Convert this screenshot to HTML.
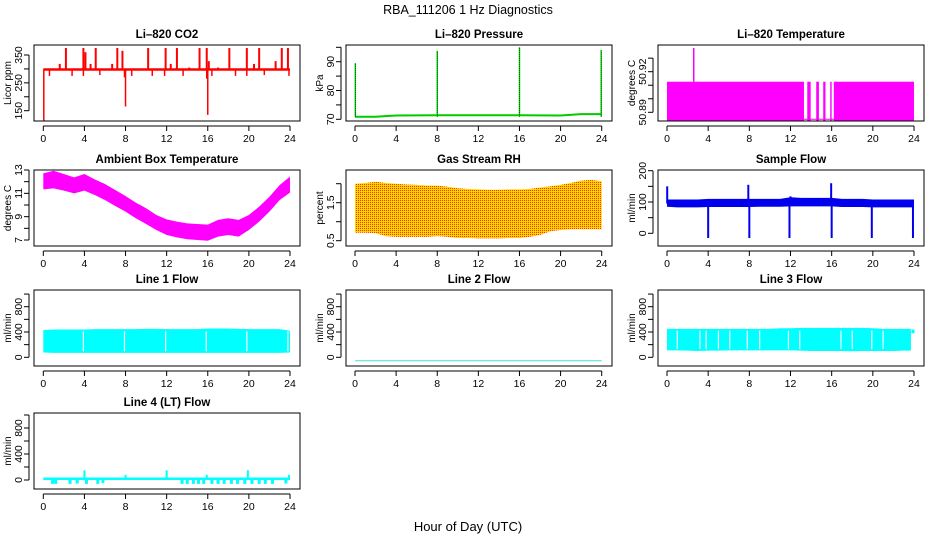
<!DOCTYPE html>
<html><head><meta charset="utf-8"><style>
html,body{margin:0;padding:0;background:#fff}
svg{display:block}
text{font-family:"Liberation Sans",sans-serif;fill:#000}
</style></head><body>
<svg id="chart" width="936" height="540" viewBox="0 0 936 540" xmlns="http://www.w3.org/2000/svg">
<defs>
<pattern id="rhpat" width="2" height="2" patternUnits="userSpaceOnUse">
<rect width="2" height="2" fill="#ffd400"/><rect width="1" height="1" fill="#ff3000"/>
</pattern>
</defs>
<text x="468" y="14" font-size="12.5" text-anchor="middle">RBA_111206  1 Hz Diagnostics</text>
<text x="468" y="531" font-size="13" text-anchor="middle">Hour of Day (UTC)</text>
</svg>
<script>
// ---------- data ----------
const xTicks=[0,4,8,12,16,20,24];
const hours=[0,1,2,3,4,5,6,7,8,9,10,11,12,13,14,15,16,17,18,19,20,21,22,23,24];
// CO2
const co2Base=298;
const co2UpHours=[1.6,2.2,3.9,4.1,4.6,5.1,6.7,7.2,7.7,10.2,11.9,12.4,13.0,14.2,15.2,15.9,16.1,17.0,18.1,19.8,20.5,21.0,22.6,23.2,23.8];
const co2UpVals=[318,375,375,360,318,375,318,375,365,375,375,318,375,305,375,375,328,305,375,375,318,375,328,375,375];
const co2DownHours=[0.05,0.6,2.8,3.9,5.5,7.9,8.0,8.6,10.6,11.8,13.6,15.9,16.0,16.4,18.7,19.8,21.5,23.9];
const co2DownVals=[115,275,275,275,278,270,165,275,275,275,275,265,135,275,275,275,278,275];
// Pressure
const presBaseHours=[0,2,4,8,12,16,20,22,23.9];
const presBaseVals=[70.9,70.9,71.3,71.4,71.4,71.4,71.3,71.8,71.8];
const presSpikeHours=[0.03,8.0,16.0,23.95];
const presSpikeVals=[89.5,93.8,95,94];
// Li-820 temperature
const tempLevel=50.9126;
const tempLow=50.8849;
const tempSpikeHour=[2.6];
const tempSpikeVal=[50.9375];
const tempOnStart=[0,13.63,14.5,15.18,15.86,16.21];
const tempOnEnd=[13.31,13.96,14.76,15.4,16.0,24];
// Ambient box temperature
const ambHigh=[12.71,12.94,12.66,12.37,12.66,12.2,11.8,11.29,10.77,10.2,9.72,9.14,8.77,8.57,8.43,8.37,8.32,8.72,8.86,8.72,9.14,9.86,10.71,11.71,12.43];
const ambLow=[11.34,11.43,11.23,11.0,11.23,10.86,10.43,9.91,9.43,8.86,8.37,7.86,7.43,7.23,7.06,7.0,6.94,7.29,7.43,7.29,7.86,8.57,9.43,10.43,11.06];
// Gas stream RH
const rhHigh=[2.0,2.02,2.05,2.02,2.0,1.98,1.97,1.95,1.95,1.92,1.88,1.86,1.85,1.84,1.84,1.85,1.85,1.86,1.9,1.93,1.97,2.02,2.08,2.1,2.06];
const rhLow=[0.71,0.71,0.7,0.62,0.6,0.6,0.6,0.6,0.62,0.6,0.57,0.57,0.56,0.56,0.56,0.57,0.57,0.6,0.65,0.75,0.78,0.8,0.8,0.8,0.8];
// Sample flow
const sfHigh=[108,108,108,108,110,110,110,110,110,110,110,110,115,113,113,113,113,110,110,110,108,108,108,108,108];
const sfLow=[85,83,83,83,84,84,84,84,84,85,85,85,86,86,86,86,86,84,84,84,83,83,83,83,83];
const sfSpikeHours=[0.02,4.0,7.9,8.0,11.9,12.0,15.95,16.0,19.9,23.9];
const sfSpikeVals=[150,-15,155,-15,-15,118,160,-15,-15,-15];
// Line 1
const l1High=[430,440,440,440,440,445,445,445,445,445,450,450,445,445,445,445,455,455,455,450,445,445,445,445,420];
const l1Low=[75,70,70,70,70,70,70,70,70,70,70,70,70,70,70,70,70,70,70,70,70,70,70,70,75];
const l1Gaps=[3.9,7.9,11.9,15.85,19.8,23.8];
// Line 2
const l2Val=-55;
// Line 3
const l3High=[450,450,450,450,450,450,450,450,450,450,450,460,460,465,465,465,465,465,465,465,460,450,450,450,440];
const l3Low=[110,110,105,100,105,105,110,110,110,110,110,110,110,105,100,100,100,100,95,100,100,100,100,105,380];
const l3Gaps=[1.0,3.2,3.8,5.0,6.1,7.8,9.0,11.8,12.9,16.9,18.0,19.9,21.0];
// Line 4
const l4Base=20;
const l4SpikeHours=[4.0,8.0,12.0,15.9,19.9,23.9];
const l4SpikeVals=[150,80,150,80,150,80];
const l4DipHours=[0.9,1.2,2.6,3.3,4.2,5.3,5.8,13.5,14.0,14.6,15.1,15.6,16.4,17.0,17.6,18.3,18.9,19.6,20.3,21.0,21.6,22.3,23.6];
const l4DipVals=[-60,-60,-60,-55,-60,-60,-45,-60,-60,-60,-60,-60,-60,-60,-60,-60,-60,-60,-60,-60,-60,-60,-55];

// ---------- layout ----------
const NS='http://www.w3.org/2000/svg';
const svg=document.getElementById('chart');
const cols=[{l:34,r:300,h0:43.3,h24:290},{l:346,r:612,h0:355,h24:601.7},{l:658,r:924,h0:667,h24:914}];
const rows=[{t:45,b:121},{t:170,b:246},{t:290,b:366},{t:413,b:489}];
function mk(tag,attrs,parent){const e=document.createElementNS(NS,tag);for(const k in attrs)e.setAttribute(k,attrs[k]);(parent||svg).appendChild(e);return e;}

function panel(name,title,ylab,c,r,ya,yapx,yb,ybpx,yticks,ylabels){
  const C=cols[c],R=rows[r];
  const g=mk('g',{});
  
  
  const sx=h=>C.h0+(C.h24-C.h0)*h/24;
  const sy=v=>yapx+(ybpx-yapx)*(v-ya)/(yb-ya);
  const cp=mk('clipPath',{id:'clip-'+name},g);
  mk('rect',{x:C.l,y:R.t,width:C.r-C.l,height:R.b-R.t},cp);
  const plot=mk('g',{'clip-path':'url(#clip-'+name+')'},g);
  
  
  const box=mk('rect',{x:C.l,y:R.t,width:C.r-C.l,height:R.b-R.t,fill:'none',stroke:'#000','stroke-width':1},g);
  
  
  const t=mk('text',{x:(C.l+C.r)/2,y:R.t-7,'font-size':11.5,'font-weight':'bold','text-anchor':'middle'},g);
  t.textContent=title;
  
  
  // x axis
  const xa=mk('g',{},g);
  
  
  const xy=R.b+5;
  mk('line',{x1:sx(0),x2:sx(24),y1:xy,y2:xy,stroke:'#000'},xa);
  xTicks.forEach(h=>{
    mk('line',{x1:sx(h),x2:sx(h),y1:xy,y2:xy+5,stroke:'#000'},xa);
    const tl=mk('text',{x:sx(h),y:R.b+21,'font-size':10.5,'text-anchor':'middle'},xa);tl.textContent=h;
  });
  // y axis
  const yaG=mk('g',{},g);
  
  
  const ax=C.l-5;
  mk('line',{x1:ax,x2:ax,y1:sy(yticks[0]),y2:sy(yticks[yticks.length-1]),stroke:'#000'},yaG);
  yticks.forEach(v=>{mk('line',{x1:ax-5,x2:ax,y1:sy(v),y2:sy(v),stroke:'#000'},yaG);});
  ylabels.forEach(v=>{
    const tl=mk('text',{x:0,y:0,'font-size':10.5,'text-anchor':'middle',transform:'translate('+(ax-7)+','+sy(v)+') rotate(-90)'},yaG);
    tl.textContent=v;
  });
  const yl=mk('text',{x:0,y:0,'font-size':10,'text-anchor':'middle',transform:'translate('+(C.l-23)+','+((R.t+R.b)/2)+') rotate(-90)'},g);
  yl.textContent=ylab;
  
  
  return {sx,sy,plot};
}
function band(p,xs,lo,hi,fill,name){
  let d='M'+xs.map((h,i)=>p.sx(h)+','+p.sy(hi[i])).join('L');
  for(let i=xs.length-1;i>=0;i--)d+='L'+p.sx(xs[i])+','+p.sy(lo[i]);
  const e=mk('path',{d:d+'Z',fill:fill,stroke:'none'},p.plot);
  
  
  return e;
}
function vline(p,h,v0,v1,col,w,name){
  const e=mk('line',{x1:p.sx(h),x2:p.sx(h),y1:p.sy(v0),y2:p.sy(v1),stroke:col,'stroke-width':w||1},p.plot);
  
  
  return e;
}
function hline(p,h0,h1,v,col,w,name){
  const e=mk('line',{x1:p.sx(h0),x2:p.sx(h1),y1:p.sy(v),y2:p.sy(v),stroke:col,'stroke-width':w||1},p.plot);
  
  
  return e;
}

// CO2
let p=panel('co2','Li–820 CO2','Licor ppm',0,0,150,110.7,350,55,[150,200,250,300,350],[150,250,350]);
hline(p,0,24,co2Base,'#ff0000',2.5,'co2-baseline');
co2UpHours.forEach((h,i)=>vline(p,h,co2Base,co2UpVals[i],'#ff0000',2,'co2-spike'));
co2DownHours.forEach((h,i)=>vline(p,h,co2Base,co2DownVals[i],'#ff0000',1.5,'co2-dip'));

// Pressure
p=panel('pressure','Li–820 Pressure','kPa',1,0,70,119.3,90,61.7,[70,75,80,85,90,95],[70,80,90]);
{let d='M'+presBaseHours.map((h,i)=>p.sx(h)+','+p.sy(presBaseVals[i])).join('L');
 const e=mk('path',{d:d,fill:'none',stroke:'#00cc00','stroke-width':2},p.plot);
 
 }
presSpikeHours.forEach((h,i)=>{vline(p,h,presBaseVals[0],presSpikeVals[i],'#00dd00',1.5,'pressure-spike');vline(p,h,presBaseVals[0],presSpikeVals[i],'#000',0.6,'pressure-spike-dots').setAttribute('stroke-dasharray','1,1');});

// Li-820 Temperature
p=panel('li820-temp','Li–820 Temperature','degrees C',2,0,50.89,112.3,50.92,71.7,[50.89,50.9,50.91,50.92,50.93],['50.89','50.92']);
hline(p,12,17.5,tempLow,'#ff00ff',1,'temp-low-line');
tempOnStart.forEach((s,i)=>{
  const e=mk('rect',{x:p.sx(s),y:p.sy(tempLevel),width:p.sx(tempOnEnd[i])-p.sx(s),height:p.sy(tempLow-0.001)-p.sy(tempLevel),fill:'#ff00ff'},p.plot);
  
  
});
tempSpikeHour.forEach((h,i)=>vline(p,h,tempLevel,tempSpikeVal[i],'#ff00ff',1.5,'temp-spike'));

// Ambient
p=panel('ambient','Ambient Box Temperature','degrees C',0,1,7,240,13,170,[7,8,9,10,11,12,13],[7,9,11,13]);
band(p,hours,ambLow,ambHigh,'#ff00ff','ambient-band');

// RH
p=panel('rh','Gas Stream RH','percent',1,1,0.5,240.7,1.5,202.7,[0.5,1,1.5,2],['0.5','1.5']);
band(p,hours,rhLow,rhHigh,'url(#rhpat)','rh-band');

// Sample flow
p=panel('sample-flow','Sample Flow','ml/min',2,1,0,233.3,200,170.7,[0,50,100,150,200],[0,100,200]);
band(p,hours,sfLow,sfHigh,'#0000ee','sample-flow-band');
sfSpikeHours.forEach((h,i)=>vline(p,h,95,sfSpikeVals[i],'#0000ee',2,'sample-flow-spike'));

// Line 1
const flowTicks=[0,200,400,600,800,1000],flowLabels=[0,400,800];
p=panel('line1','Line 1 Flow','ml/min',0,2,0,357.3,800,306.7,flowTicks,flowLabels);
band(p,hours,l1Low,l1High,'#00ffff','line1-band');
l1Gaps.forEach(h=>vline(p,h,l1Low[0]+20,l1High[0]-20,'#fff',1.2,'line1-gap'));

// Line 2
p=panel('line2','Line 2 Flow','ml/min',1,2,0,357.3,800,306.7,flowTicks,flowLabels);
hline(p,0,24,l2Val,'#40e0e0',1,'line2-line');

// Line 3
p=panel('line3','Line 3 Flow','ml/min',2,2,0,357.3,800,306.7,flowTicks,flowLabels);
band(p,hours.slice(0,24).concat([23.7]),l3Low.slice(0,24).concat([105]),l3High.slice(0,24).concat([450]),'#00ffff','line3-band');
vline(p,23.9,l3Low[24],l3High[24],'#00ffff',3,'line3-end');
l3Gaps.forEach(h=>vline(p,h,130,420,'#fff',1.2,'line3-gap'));

// Line 4
p=panel('line4','Line 4 (LT) Flow','ml/min',0,3,0,480,800,428,flowTicks,flowLabels);
hline(p,0,24,l4Base,'#00ffff',2.5,'line4-baseline');
l4SpikeHours.forEach((h,i)=>vline(p,h,l4Base,l4SpikeVals[i],'#00ffff',2,'line4-spike'));
l4DipHours.forEach((h,i)=>vline(p,h,l4Base,l4DipVals[i],'#00ffff',3,'line4-dip'));
</script>
</body></html>
